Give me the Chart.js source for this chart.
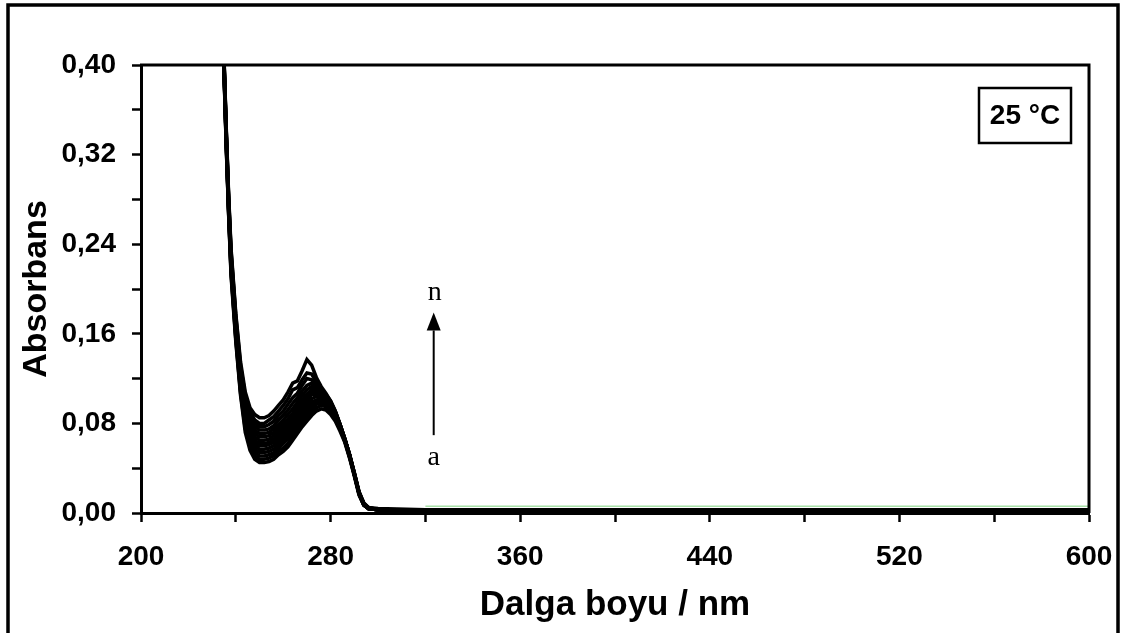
<!DOCTYPE html>
<html>
<head>
<meta charset="utf-8">
<script src="https://cdn.jsdelivr.net/npm/chart.js@4.4.0/dist/chart.umd.min.js"></script>
<style>
  html, body { margin: 0; padding: 0; background: #fff; }
</style>
</head>
<body>
<canvas id="myChart" width="1126" height="633"></canvas>
<script>
// wavelength grid (nm)
var wavelengths = [234, 235, 236, 237, 238, 240,
  242, 244, 246, 248, 250, 252, 254, 256, 258, 260, 262, 264, 266, 268,
  270, 272, 274, 276, 278, 280, 282, 284, 286, 288, 290, 292, 294, 296,
  300, 320, 360, 400, 500, 600];

// absorbance of each spectrum, a (lowest) ... n (highest)
var absA = [0.47, 0.395, 0.325, 0.265, 0.212, 0.153, 0.105, 0.072, 0.056, 0.048, 0.045, 0.045, 0.046, 0.048, 0.052, 0.055, 0.059, 0.065, 0.071, 0.077, 0.082, 0.087, 0.091, 0.093, 0.092, 0.088, 0.082, 0.073, 0.063, 0.049, 0.033, 0.016, 0.007, 0.004, 0.003, 0.002, 0.002, 0.002, 0.002, 0.002];
var absB = [0.47, 0.396, 0.326, 0.266, 0.214, 0.155, 0.107, 0.075, 0.059, 0.051, 0.048, 0.048, 0.049, 0.051, 0.055, 0.058, 0.062, 0.068, 0.074, 0.080, 0.085, 0.090, 0.094, 0.096, 0.095, 0.090, 0.084, 0.075, 0.064, 0.050, 0.034, 0.017, 0.007, 0.004, 0.003, 0.002, 0.002, 0.002, 0.002, 0.002];
var absC = [0.47, 0.397, 0.327, 0.267, 0.216, 0.157, 0.109, 0.078, 0.062, 0.054, 0.051, 0.051, 0.052, 0.054, 0.058, 0.062, 0.066, 0.071, 0.077, 0.083, 0.088, 0.093, 0.097, 0.098, 0.096, 0.091, 0.085, 0.076, 0.064, 0.050, 0.034, 0.017, 0.007, 0.004, 0.003, 0.002, 0.002, 0.002, 0.002, 0.002];
var absD = [0.47, 0.398, 0.329, 0.269, 0.218, 0.159, 0.111, 0.081, 0.065, 0.057, 0.054, 0.054, 0.055, 0.057, 0.061, 0.065, 0.069, 0.074, 0.080, 0.086, 0.091, 0.096, 0.099, 0.100, 0.097, 0.092, 0.086, 0.076, 0.065, 0.051, 0.034, 0.017, 0.007, 0.004, 0.003, 0.002, 0.002, 0.002, 0.002, 0.002];
var absE = [0.47, 0.399, 0.330, 0.270, 0.220, 0.161, 0.113, 0.084, 0.068, 0.060, 0.057, 0.057, 0.058, 0.060, 0.064, 0.068, 0.072, 0.077, 0.083, 0.089, 0.094, 0.099, 0.101, 0.102, 0.099, 0.094, 0.087, 0.077, 0.065, 0.051, 0.035, 0.018, 0.008, 0.004, 0.003, 0.002, 0.002, 0.002, 0.002, 0.002];
var absF = [0.47, 0.400, 0.331, 0.271, 0.221, 0.163, 0.115, 0.087, 0.071, 0.063, 0.060, 0.060, 0.061, 0.063, 0.067, 0.071, 0.075, 0.080, 0.086, 0.092, 0.097, 0.102, 0.104, 0.103, 0.100, 0.095, 0.088, 0.077, 0.065, 0.051, 0.035, 0.018, 0.008, 0.004, 0.003, 0.002, 0.002, 0.002, 0.002, 0.002];
var absG = [0.47, 0.401, 0.332, 0.272, 0.223, 0.164, 0.117, 0.089, 0.073, 0.065, 0.062, 0.062, 0.063, 0.066, 0.070, 0.074, 0.078, 0.083, 0.089, 0.095, 0.100, 0.106, 0.105, 0.104, 0.101, 0.096, 0.088, 0.078, 0.066, 0.051, 0.035, 0.018, 0.008, 0.004, 0.003, 0.003, 0.002, 0.002, 0.002, 0.002];
var absH = [0.47, 0.402, 0.334, 0.274, 0.224, 0.166, 0.119, 0.092, 0.076, 0.068, 0.065, 0.065, 0.066, 0.069, 0.073, 0.077, 0.081, 0.086, 0.092, 0.098, 0.103, 0.108, 0.107, 0.105, 0.102, 0.097, 0.089, 0.078, 0.066, 0.052, 0.035, 0.018, 0.008, 0.004, 0.003, 0.003, 0.003, 0.002, 0.002, 0.002];
var absI = [0.47, 0.403, 0.335, 0.275, 0.226, 0.168, 0.121, 0.095, 0.079, 0.071, 0.068, 0.068, 0.069, 0.072, 0.076, 0.080, 0.084, 0.089, 0.095, 0.101, 0.106, 0.110, 0.108, 0.106, 0.103, 0.097, 0.089, 0.078, 0.066, 0.052, 0.035, 0.018, 0.008, 0.004, 0.003, 0.003, 0.003, 0.003, 0.002, 0.002];
var absJ = [0.47, 0.404, 0.336, 0.277, 0.228, 0.170, 0.124, 0.097, 0.082, 0.074, 0.071, 0.071, 0.072, 0.075, 0.079, 0.083, 0.088, 0.093, 0.099, 0.105, 0.110, 0.113, 0.110, 0.107, 0.104, 0.098, 0.090, 0.079, 0.066, 0.052, 0.035, 0.018, 0.008, 0.004, 0.003, 0.003, 0.003, 0.003, 0.003, 0.003];
var absK = [0.47, 0.405, 0.338, 0.278, 0.230, 0.172, 0.126, 0.100, 0.085, 0.077, 0.074, 0.074, 0.075, 0.078, 0.083, 0.087, 0.092, 0.098, 0.103, 0.109, 0.114, 0.116, 0.112, 0.108, 0.104, 0.098, 0.090, 0.079, 0.066, 0.052, 0.035, 0.018, 0.008, 0.004, 0.003, 0.003, 0.003, 0.003, 0.003, 0.003];
var absL = [0.47, 0.406, 0.339, 0.280, 0.232, 0.174, 0.129, 0.102, 0.088, 0.080, 0.077, 0.077, 0.079, 0.082, 0.087, 0.091, 0.097, 0.103, 0.107, 0.114, 0.120, 0.119, 0.114, 0.109, 0.105, 0.099, 0.090, 0.079, 0.066, 0.052, 0.036, 0.018, 0.008, 0.005, 0.003, 0.003, 0.003, 0.003, 0.003, 0.003];
var absM = [0.47, 0.407, 0.340, 0.281, 0.234, 0.176, 0.132, 0.105, 0.091, 0.083, 0.080, 0.080, 0.083, 0.086, 0.091, 0.096, 0.102, 0.110, 0.112, 0.119, 0.125, 0.124, 0.117, 0.111, 0.106, 0.100, 0.091, 0.079, 0.066, 0.052, 0.036, 0.019, 0.009, 0.005, 0.003, 0.003, 0.003, 0.003, 0.003, 0.003];
var absN = [0.47, 0.408, 0.342, 0.283, 0.236, 0.178, 0.135, 0.108, 0.094, 0.088, 0.085, 0.085, 0.087, 0.091, 0.096, 0.101, 0.108, 0.116, 0.118, 0.127, 0.137, 0.132, 0.121, 0.113, 0.107, 0.100, 0.091, 0.079, 0.066, 0.052, 0.036, 0.019, 0.009, 0.005, 0.004, 0.003, 0.003, 0.003, 0.003, 0.003];

// faint green spectrum, only its tail shows above the others
var greenWavelengths = [320, 360, 400, 500, 600];
var absGreen = [0.006, 0.006, 0.006, 0.006, 0.006];

var spectra = [absA, absB, absC, absD, absE, absF, absG, absH, absI, absJ, absK, absL, absM, absN];
var names = ['a', 'b', 'c', 'd', 'e', 'f', 'g', 'h', 'i', 'j', 'k', 'l', 'm', 'n'];

var fontFamily = '"Liberation Sans", Arial, sans-serif';

var datasets = spectra.map(function (vals, i) {
  return {
    label: names[i],
    data: wavelengths.map(function (w, j) { return { x: w, y: vals[j] }; }),
    borderColor: '#000',
    borderWidth: 3.5,
    pointRadius: 0,
    tension: 0,
    fill: false
  };
});
datasets.push({
  label: 'green',
  data: greenWavelengths.map(function (w, j) { return { x: w, y: absGreen[j] }; }),
  borderColor: '#a8e0a8',
  borderWidth: 1.5,
  pointRadius: 0,
  fill: false
});

// frame, top/right edges, temperature box and the a -> n arrow
var extras = {
  id: 'extras',
  afterDraw: function (chart) {
    var ctx = chart.ctx, area = chart.chartArea;
    var xs = chart.scales.x, ys = chart.scales.y;
    ctx.save();
    ctx.strokeStyle = '#000';
    ctx.lineWidth = 3.5;
    ctx.strokeRect(8, 5, 1110, 700);

    ctx.lineWidth = 3;
    ctx.beginPath();
    ctx.moveTo(area.left - 1, area.top);
    ctx.lineTo(area.right, area.top);
    ctx.lineTo(area.right, area.bottom);
    ctx.stroke();

    ctx.lineWidth = 2.5;
    ctx.strokeRect(979, 88, 92, 55);
    ctx.fillStyle = '#000';
    ctx.font = 'bold 28px ' + fontFamily;
    ctx.textAlign = 'center';
    ctx.textBaseline = 'middle';
    ctx.fillText('25 °C', 1025, 116);

    var ax = xs.getPixelForValue(323.5);
    var yTail = ys.getPixelForValue(0.0695);
    var yBase = ys.getPixelForValue(0.163);
    var yTip = ys.getPixelForValue(0.179);
    ctx.lineWidth = 2;
    ctx.beginPath();
    ctx.moveTo(ax, yTail);
    ctx.lineTo(ax, yBase);
    ctx.stroke();
    ctx.beginPath();
    ctx.moveTo(ax, yTip);
    ctx.lineTo(ax - 7, yBase);
    ctx.lineTo(ax + 7, yBase);
    ctx.closePath();
    ctx.fill();

    ctx.font = '28px "Liberation Serif", "Times New Roman", serif';
    ctx.fillText('n', ax + 1, ys.getPixelForValue(0.197));
    ctx.fillText('a', ax, ys.getPixelForValue(0.049));
    ctx.restore();
  }
};

var ctx = document.getElementById('myChart').getContext('2d');
var myChart = new Chart(ctx, {
  type: 'line',
  data: { datasets: datasets },
  options: {
    responsive: false,
    animation: false,
    devicePixelRatio: 1,
    layout: { padding: { top: 65, right: 37, left: 0, bottom: 0 } },
    plugins: {
      legend: { display: false },
      tooltip: { enabled: false }
    },
    scales: {
      x: {
        type: 'linear',
        min: 200,
        max: 600,
        border: { display: true, color: '#000', width: 3 },
        grid: { drawOnChartArea: false, drawTicks: true, tickLength: 9, tickWidth: 2.5, tickColor: '#000' },
        ticks: {
          stepSize: 40,
          autoSkip: false,
          maxRotation: 0,
          padding: 18,
          color: '#000',
          font: { family: fontFamily, size: 28, weight: 'bold' },
          callback: function (v) { return (v - 200) % 80 === 0 ? String(v) : ''; }
        },
        title: {
          display: true,
          text: 'Dalga boyu / nm',
          color: '#000',
          font: { family: fontFamily, size: 35, weight: 'bold' },
          padding: { top: 0, bottom: 7 }
        },
        afterFit: function (s) {
          s.height = 120;
          s.paddingLeft = 0;
          s.paddingRight = 0;
        }
      },
      y: {
        min: 0,
        max: 0.4,
        border: { display: true, color: '#000', width: 3 },
        grid: { drawOnChartArea: false, drawTicks: true, tickLength: 9, tickWidth: 2.5, tickColor: '#000' },
        ticks: {
          stepSize: 0.04,
          autoSkip: false,
          padding: 16,
          color: '#000',
          font: { family: fontFamily, size: 28, weight: 'bold' },
          callback: function (v) {
            var k = Math.round(v / 0.04);
            return k % 2 === 0 ? (k * 0.04).toFixed(2).replace('.', ',') : '';
          }
        },
        title: {
          display: true,
          text: 'Absorbans',
          color: '#000',
          font: { family: fontFamily, size: 34, weight: 'bold' },
          padding: { top: 16, bottom: 0 }
        },
        afterFit: function (s) {
          s.width = 141;
          s.paddingTop = 0;
          s.paddingBottom = 0;
        }
      }
    }
  },
  plugins: [extras]
});
</script>
</body>
</html>
